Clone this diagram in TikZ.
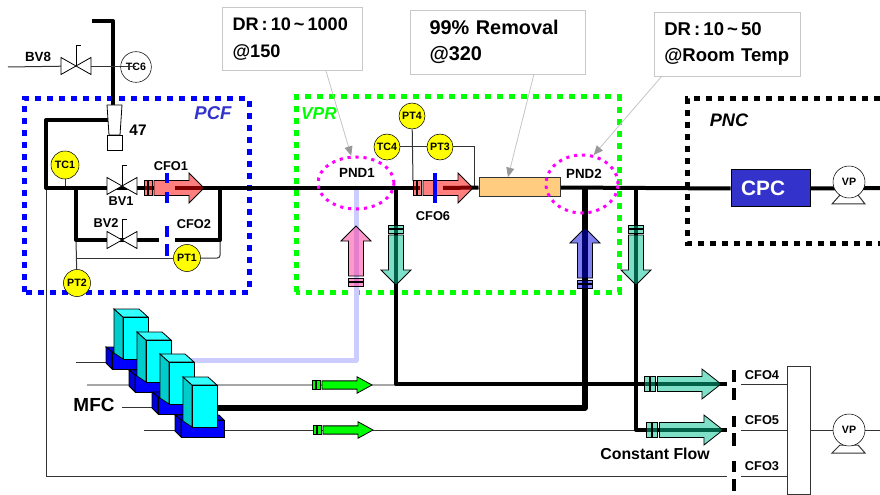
\documentclass[tikz,border=0pt]{standalone}
\usepackage{fontspec}
\setmainfont{Liberation Sans}
\usepackage{tikz}
\usetikzlibrary{arrows.meta,shapes.geometric,backgrounds,calc}

\definecolor{pcfblue}{HTML}{0000FF}
\definecolor{pcftext}{HTML}{3333CC}
\definecolor{vprgreen}{HTML}{00FF00}
\definecolor{pndpink}{HTML}{FF00FF}
\definecolor{gaugeyellow}{HTML}{FFFF00}
\definecolor{heaterfill}{HTML}{FFCC80}
\definecolor{purgeline}{HTML}{CCCCFF}
\definecolor{notegray}{HTML}{C8C8C8}
\definecolor{leadgray}{HTML}{C4C4C4}
\definecolor{tipgray}{HTML}{989898}
\definecolor{towerfront}{HTML}{00FFFF}
\definecolor{towertop}{HTML}{33FFFF}
\definecolor{towerside}{HTML}{00CCCC}

\tikzset{
  pipe/.style={line width=3pt,line join=round},
  heavypipe/.style={line width=4.2pt,line join=round},
  purgepipe/.style={line width=3.75pt,line join=round,draw=purgeline},
  thinpipe/.style={line width=0.75pt,draw=black!80},
  feedline/.style={line width=0.9pt,draw=black!35},
  dotbox/.style={line width=3.75pt,dash pattern=on 4.5pt off 4.5pt},
  pndring/.style={ellipse,draw=pndpink,line width=2.25pt,dash pattern=on 2.4pt off 3.6pt,inner sep=0pt},
  gauge/.style={circle,draw=black,fill=gaugeyellow,minimum size=20.25pt,inner sep=0pt,font=\fontsize{8}{9}\selectfont\bfseries},
  pump/.style={circle,draw=black,fill=white,minimum size=24pt,inner sep=0pt,font=\fontsize{8}{9}\selectfont\bfseries},
  tag/.style={inner sep=0pt,font=\fontsize{9.6}{11}\selectfont\bfseries},
  notebox/.style={rectangle,draw=notegray,fill=white,align=left,inner ysep=0pt,font=\fontsize{13.6}{20}\selectfont\bfseries},
  leader/.style={draw=leadgray,line width=0.6pt,-{Triangle[color=tipgray,length=7pt,width=6pt]}},
  cfobar/.style={draw=pcfblue,line width=3pt},
  stopbar/.style={draw=black,line width=3pt},
  flowred/.style={fill={rgb,255:red,255;green,0;blue,0},fill opacity=.5},
  flowpink/.style={fill={rgb,255:red,255;green,51;blue,153},fill opacity=.5},
  flowteal/.style={fill={rgb,255:red,0;green,193;blue,145},fill opacity=.5},
  flowblue/.style={fill={rgb,255:red,0;green,0;blue,224},fill opacity=.5},
  flowgreen/.style={fill=vprgreen},
  pics/flowarrow/.style={code={
    \path[#1,draw=black,line width=0.6pt] (0,0) -- (-15,15) -- (-15,7.5) -- (-50,7.5) -- (-50,-7.5) -- (-15,-7.5) -- (-15,-15) -- cycle;
    \path[#1,draw=black,line width=0.6pt] (-52,7.5) rectangle (-55.5,-7.5);
    \path[#1,draw=black,line width=0.6pt] (-56.5,7.5) rectangle (-60,-7.5);
  }},
  pics/valve/.style={code={
    \draw[line width=0.6pt,fill=white] (-15,-8.5) -- (-15,8.5) -- (15,-8.5) -- (15,8.5) -- cycle;
    \draw[line width=0.6pt] (0,0) -- (0,-21) -- (5,-21);
  }},
  pics/mfcunit/.style={code={
    \draw[line width=0.6pt,fill=pcfblue!85!black] (-17,30) -- (27,30) -- (32,35) -- (-11,35) -- cycle;
    \draw[line width=0.6pt,fill=pcfblue!85!black] (-17,30) -- (-11,35) -- (-11,52) -- (-17,46) -- cycle;
    \draw[line width=0.6pt,fill=pcfblue] (-11,35) rectangle (32,52);
    \draw[line width=0.6pt,fill=towerside] (-9,-8) -- (0,0) -- (0,42) -- (-9,36) -- cycle;
    \draw[line width=0.6pt,fill=towertop] (-9,-8) -- (16,-8) -- (25,0) -- (0,0) -- cycle;
    \draw[line width=0.6pt,fill=towerfront] (0,0) rectangle (25,42);
  }}
}

\begin{document}
\begin{tikzpicture}[x=0.75pt,y=-0.75pt]
\useasboundingbox (0,0) rectangle (880,495);

\node[notebox,minimum width=105pt,minimum height=47pt,text width=90pt,inner xsep=7.5pt] (noteA) at (292.5,39) {DR\,:\,10\,\textasciitilde\,1000\\@150};
\node[notebox,font=\fontsize{14.9}{20}\selectfont\bfseries,minimum width=131pt,minimum height=48pt,text width=102pt,inner xsep=14.5pt] (noteB) at (497.5,42) {99\%~Removal\\@320};
\node[notebox,font=\fontsize{13.9}{20}\selectfont\bfseries,minimum width=109.5pt,minimum height=48pt,text width=94pt,inner xsep=7.75pt] (noteC) at (727,44) {DR\,:\,10\,\textasciitilde\,50\\@Room~Temp};

\node[gauge,fill=white,minimum size=23pt] (tcF) at (136,67) {TC6};
\node[gauge,minimum size=21pt] (tcA) at (65,165) {TC1};
\node[gauge] (ptA) at (187,258) {PT1};
\node[gauge] (ptB) at (77,283) {PT2};
\node[gauge,minimum size=19.5pt] (ptD) at (412,116) {PT4};
\node[gauge,minimum size=19.5pt] (tcD) at (387,147) {TC4};
\node[gauge,minimum size=19.5pt] (ptC) at (440,147) {PT3};

\node[draw=black!80,fill=heaterfill,line width=0.75pt,minimum width=60.75pt,minimum height=14.25pt,inner sep=0pt] (heater) at (519.5,187.5) {};
\node[pndring,minimum width=57pt,minimum height=39pt] (pndA) at (356,183) {};
\node[pndring,minimum width=54pt,minimum height=43.5pt] (pndB) at (582,184) {};
\node[tag,font=\fontsize{10}{12}\selectfont\bfseries] (pndAtext) at (357,173) {PND1};
\node[tag,font=\fontsize{10}{12}\selectfont\bfseries] (pndBtext) at (584,174) {PND2};

\node[draw=black,fill=pcftext,line width=0.75pt,minimum width=59.25pt,minimum height=27.75pt,inner sep=0pt,text=white,font=\fontsize{15.6}{18}\selectfont\bfseries] (cpc) at (770.5,188.5) {\hspace{-11pt}CPC};
\node[draw=black!80,fill=white,line width=0.75pt,minimum width=17.25pt,minimum height=96pt,inner sep=0pt] (manifold) at (798.5,430) {};

\node[inner sep=0pt,text=pcftext,font=\fontsize{13.9}{16}\selectfont\bfseries\itshape] (pcfname) at (213,113) {PCF};
\node[inner sep=0pt,text=vprgreen,font=\fontsize{13}{16}\selectfont\bfseries\itshape] (vprname) at (319,114) {VPR};
\node[inner sep=0pt,font=\fontsize{13.6}{16}\selectfont\bfseries\itshape] (pncname) at (729,120) {PNC};

\node[tag,font=\fontsize{10}{12}\selectfont\bfseries] (bvHtext) at (38,57) {BV8};
\node[tag,font=\fontsize{11.5}{14}\selectfont\bfseries] (fortyseven) at (138,130) {47};
\node[tag] (bvAtext) at (121,201) {BV1};
\node[tag] (bvBtext) at (106,223) {BV2};
\node[tag] (cfoAtext) at (171,166) {CFO1};
\node[tag] (cfoBtext) at (194,224) {CFO2};
\node[tag] (cfoFtext) at (433,216) {CFO6};
\node[tag] (cfoDtext) at (762,375) {CFO4};
\node[tag] (cfoEtext) at (762,420) {CFO5};
\node[tag] (cfoCtext) at (762,466) {CFO3};
\node[tag,font=\fontsize{11.9}{14}\selectfont\bfseries] (constflow) at (655,454) {Constant Flow};
\node[tag,font=\fontsize{14.2}{16}\selectfont\bfseries] (mfcname) at (94,405) {MFC};

\coordinate (feedTop) at (92,21);
\coordinate (feedBend) at (113,21);
\coordinate (reducerTop) at (113,105);
\coordinate (reducerSide) at (108,120);
\coordinate (teeBend) at (46,120);
\coordinate (teeA) at (46,188);
\coordinate (teeB) at (76,188);
\coordinate (teeC) at (220,188);
\coordinate (bvH) at (76,66);
\coordinate (bvHin) at (8,67);
\coordinate (bvHout) at (91,67);
\coordinate (bvA) at (122,186);
\coordinate (bvB) at (122,240);
\coordinate (cfoAin) at (154,188);
\coordinate (cfoAout) at (175,188);
\coordinate (cfoBin) at (159,240);
\coordinate (cfoBout) at (175,240);
\coordinate (cfoFin) at (420,188);
\coordinate (cfoFout) at (443,188);
\coordinate (bendB) at (76,240);
\coordinate (bendC) at (220,240);
\coordinate (ptBend) at (76,258);
\coordinate (ptAbend) at (220,258);
\coordinate (ptCbend) at (474,147);
\coordinate (ptCend) at (474,188);
\coordinate (ptDend) at (413,181);
\coordinate (tcAend) at (65,188);
\coordinate (samplePt) at (396,188);
\coordinate (sampleBend) at (396,384);
\coordinate (sampleEnd) at (727,384);
\coordinate (dilutePt) at (585,188);
\coordinate (diluteBend) at (585,408);
\coordinate (diluteEnd) at (217,408);
\coordinate (splitPt) at (636,188);
\coordinate (splitBend) at (636,430);
\coordinate (splitEnd) at (727,430);
\coordinate (purgeTop) at (356,190);
\coordinate (purgeBend) at (356,360);
\coordinate (purgeEnd) at (190,360);
\coordinate (bypassBend) at (46,476);
\coordinate (bypassEnd) at (727,476);
\coordinate (exitA) at (880,188);
\coordinate (exitB) at (880,430);
\coordinate (feedAin) at (76,362);
\coordinate (feedAout) at (112,362);
\coordinate (feedBin) at (87,385);
\coordinate (feedBout) at (396,385);
\coordinate (feedCout) at (152,407);
\coordinate (feedDin) at (144,430);
\coordinate (feedDout) at (636,430);
\coordinate (stopD) at (741,384);
\coordinate (stopE) at (741,430);
\coordinate (stopC) at (741,476);
\coordinate (removalTip) at (508,177);
\coordinate (ptDnote) at (534,74);

\begin{scope}[on background layer]
\draw[dotbox,draw=pcfblue] (24,292) -- (24,99) -- (249,99) -- (249,292) -- cycle;
\draw[dotbox,draw=vprgreen] (296,292) -- (296,97) -- (619,97) -- (619,292) -- cycle;
\draw[dotbox,draw=black] (880,99) -- (687,99) -- (687,243) -- (880,243);
\draw[purgepipe] (purgeTop) -- (purgeBend) -- (purgeEnd);
\draw[feedline] (feedBin) -- (feedBout);
\draw[thinpipe] (feedAin) -- (feedAout);
\draw[thinpipe] (mfcname.east) ++(7,2) -- (feedCout);
\draw[thinpipe] (feedDin) -- (feedDout);
\draw[thinpipe] (teeA) -- (bypassBend) -- (bypassEnd);
\draw[thinpipe] (bvHin) -- (bvH);
\draw[thinpipe] (tcA) -- (tcAend);
\draw[thinpipe] (bendB) -- (ptB);
\draw[thinpipe] (ptBend) -- (ptA);
\draw[thinpipe,rounded corners=2pt] (ptA) -- (ptAbend) -- (bendC);
\draw[thinpipe] (tcD) -- (ptC) -- (ptCbend) -- (ptCend);
\draw[thinpipe] (ptD) -- (ptDend);
\draw[thinpipe] (stopD) -- (stopD -| manifold.west);
\draw[thinpipe] (stopE) -- (stopE -| manifold.west);
\draw[thinpipe] (stopC) -- (stopC -| manifold.west);
\draw[thinpipe] (manifold.east) -- (exitB);
\draw[pipe] (feedTop) -- (feedBend) -- (reducerTop);
\draw[pipe] (reducerSide) -- (teeBend) -- (teeA) -- (cfoAin);
\draw[pipe] (cfoAout) -- (cfoFin);
\draw[pipe] (cfoFout) -- (heater.west);
\draw[pipe] (heater.east) -- (cpc.west);
\draw[pipe] (cpc.east) -- (exitA);
\draw[pipe] (teeB) -- (bendB) -- (cfoBin);
\draw[pipe] (cfoBout) -- (bendC) -- (teeC);
\draw[pipe] (samplePt) -- (sampleBend) -- (sampleEnd);
\draw[pipe] (splitPt) -- (splitBend) -- (splitEnd);
\draw[heavypipe] (dilutePt) -- (diluteBend) -- (diluteEnd);
\end{scope}

\draw[thinpipe] (bvHout) -- (tcF.center);
\pic at (bvH) {valve};
\pic at (bvA) {valve};
\pic at (bvB) {valve};

\draw[line width=0.6pt,fill=white] (107,105) -- (122,105) -- (120,135) -- (109,135) -- cycle;
\node[draw,fill=white,line width=0.6pt,minimum size=11.25pt,inner sep=0pt] (reducerBase) at (114.5,143) {};

\draw[line width=0.75pt,draw=black!80,fill=white] (840,195) -- (832,204) -- (865,204) -- (858,195) -- cycle;
\node[pump] (pumpA) at (849,182) {VP};
\draw[line width=0.75pt,draw=black!80,fill=white] (840,445) -- (832,453) -- (865,453) -- (858,445) -- cycle;
\node[pump] (pumpB) at (849,430) {VP};

\pic at (204,188) {flowarrow=flowred};
\pic at (473,188) {flowarrow=flowred};
\pic[rotate=90] at (356,226) {flowarrow=flowpink};
\pic[rotate=-90] at (396,285) {flowarrow=flowteal};
\pic[rotate=90] at (585,228) {flowarrow=flowblue};
\pic[rotate=-90] at (636,285) {flowarrow=flowteal};
\pic[xscale=1.27] at (721,384) {flowarrow=flowteal};
\pic[xscale=1.27] at (723,430) {flowarrow=flowteal};
\pic[yscale=.55] at (372,385) {flowarrow=flowgreen};
\pic[yscale=.55] at (373,430) {flowarrow=flowgreen};

\draw[cfobar] (167,173) -- (167,183);
\draw[cfobar] (167,192) -- (167,203);
\draw[cfobar] (167,226) -- (167,237);
\draw[cfobar] (167,244) -- (167,256);
\draw[cfobar] (435,173) -- (435,203);
\draw[stopbar] (734,370) -- (734,382);
\draw[stopbar] (734,388) -- (734,400);
\draw[stopbar] (734,416) -- (734,427);
\draw[stopbar] (734,433) -- (734,446);
\draw[stopbar] (734,461) -- (734,472);
\draw[stopbar] (734,479) -- (734,491);

\pic at (123,317) {mfcunit};
\pic at (146,340) {mfcunit};
\pic at (169,362) {mfcunit};
\pic at (192,385) {mfcunit};

\draw[leader] (326,71) -- (pndA.100);
\draw[leader] (ptDnote) -- (removalTip);
\draw[leader] (662,76) -- (pndB.68);
\end{tikzpicture}
\end{document}
